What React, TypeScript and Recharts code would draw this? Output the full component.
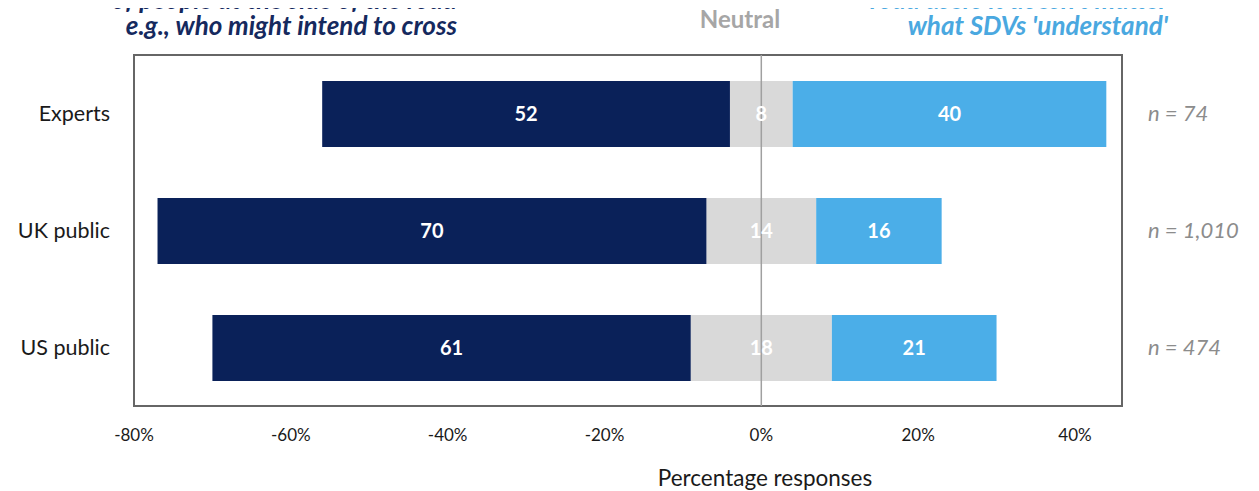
import React from 'react';
import { BarChart, Bar, XAxis, YAxis, ReferenceLine, ReferenceArea, LabelList } from 'recharts';

const categories = ['Experts', 'UK public', 'US public'];
const disagree = [52, 70, 61];
const neutral = [8, 14, 18];
const agree = [40, 16, 21];
const sampleLabels = ['n = 74', 'n = 1,010', 'n = 474'];
const xTicks = [-80, -60, -40, -20, 0, 20, 40];

const NAVY = '#0a2159';
const GREY = '#d9d9d9';
const BLUE = '#4baee8';
const FONT = 'Lato, "Open Sans", sans-serif';

const data = categories.map((name, i) => ({
  name,
  neutralNeg: -neutral[i] / 2,
  neutralPos: neutral[i] / 2,
  left: -disagree[i],
  right: agree[i],
  disagree: disagree[i],
  neutral: neutral[i],
  agree: agree[i],
}));

const centerLabel = (key: string) => (props: any) => {
  const { x, y, width, height, index } = props;
  const v = (data as any)[index][key];
  return (
    <text x={x + width / 2} y={y + height / 2} dy="0.36em" textAnchor="middle" fill="#ffffff" fontFamily={FONT} fontWeight={700} fontSize={20}>
      {v}
    </text>
  );
};

const neutralLabel = (props: any) => {
  const { x, y, height, index } = props;
  const v = data[index].neutral;
  return (
    <text x={x} y={y + height / 2} dy="0.36em" textAnchor="middle" fill="#ffffff" fontFamily={FONT} fontWeight={700} fontSize={20}>
      {v}
    </text>
  );
};

const lineStyle = (left: number, top: number, color: string): React.CSSProperties => ({
  position: 'absolute', left, top, width: 400, textAlign: 'right', color, fontWeight: 700, fontStyle: 'italic',
  fontSize: 26, lineHeight: '27px', whiteSpace: 'nowrap',
});

export default function App() {
  return (
    <div style={{ position: 'relative', width: 1259, height: 491, margin: '-8px 0 0 -8px', fontFamily: FONT, overflow: 'hidden' }}>
      <div style={lineStyle(57, -14, '#15295e')}>of people at the side of the road</div>
      <div style={lineStyle(57, 12, '#15295e')}>e.g., who might intend to cross</div>
      <div style={{ position: 'absolute', left: 680, top: 5, width: 120, textAlign: 'center', color: '#a6a6a6', fontWeight: 700, fontSize: 24, lineHeight: '28px' }}>
        Neutral
      </div>
      <div style={lineStyle(768, -14, '#4aa8e0')}>road users it doesn't matter</div>
      <div style={lineStyle(768, 12, '#4aa8e0')}>what SDVs 'understand'</div>
      <BarChart
        width={1259}
        height={491}
        data={data}
        layout="vertical"
        stackOffset="sign"
        margin={{ top: 55, right: 0, bottom: 0, left: 0 }}
        barSize={66}
      >
        <XAxis
          type="number"
          domain={[-80, 46]}
          ticks={xTicks}
          allowDataOverflow
          tickFormatter={(v: number) => `${v}%`}
          axisLine={false}
          tickLine={false}
          tickMargin={17}
          height={85}
          tick={{ fontSize: 17, fill: '#1a1a1a', fontFamily: FONT }}
          label={{ value: 'Percentage responses', position: 'insideBottom', offset: 5, fontSize: 22.5, fill: '#1a1a1a', fontFamily: FONT, dx: 137 }}
        />
        <YAxis
          yAxisId="left"
          type="category"
          dataKey="name"
          width={134}
          axisLine={false}
          tickLine={false}
          tickMargin={18}
          tick={{ fontSize: 21.5, fill: '#1a1a1a', fontFamily: FONT }}
        />
        <YAxis
          yAxisId="right"
          orientation="right"
          type="category"
          dataKey="name"
          width={137}
          axisLine={false}
          tickLine={false}
          tickMargin={20}
          tickFormatter={(v: string) => sampleLabels[categories.indexOf(v)]}
          tick={{ fontSize: 22, fill: '#8c8c8c', fontFamily: FONT, fontStyle: 'italic' }}
        />
        <Bar yAxisId="left" dataKey="neutralNeg" stackId="s" fill={GREY} isAnimationActive={false} />
        <Bar yAxisId="left" dataKey="neutralPos" stackId="s" fill={GREY} isAnimationActive={false}>
          <LabelList dataKey="neutral" content={neutralLabel} />
        </Bar>
        <Bar yAxisId="left" dataKey="left" stackId="s" fill={NAVY} isAnimationActive={false}>
          <LabelList dataKey="disagree" content={centerLabel('disagree')} />
        </Bar>
        <Bar yAxisId="left" dataKey="right" stackId="s" fill={BLUE} isAnimationActive={false}>
          <LabelList dataKey="agree" content={centerLabel('agree')} />
        </Bar>
        <ReferenceLine yAxisId="left" x={0} stroke="#a0a0a0" strokeWidth={1.5} />
        <ReferenceArea yAxisId="left" x1={-80} x2={46} fill="none" stroke="#666666" strokeWidth={2} />
      </BarChart>
    </div>
  );
}
